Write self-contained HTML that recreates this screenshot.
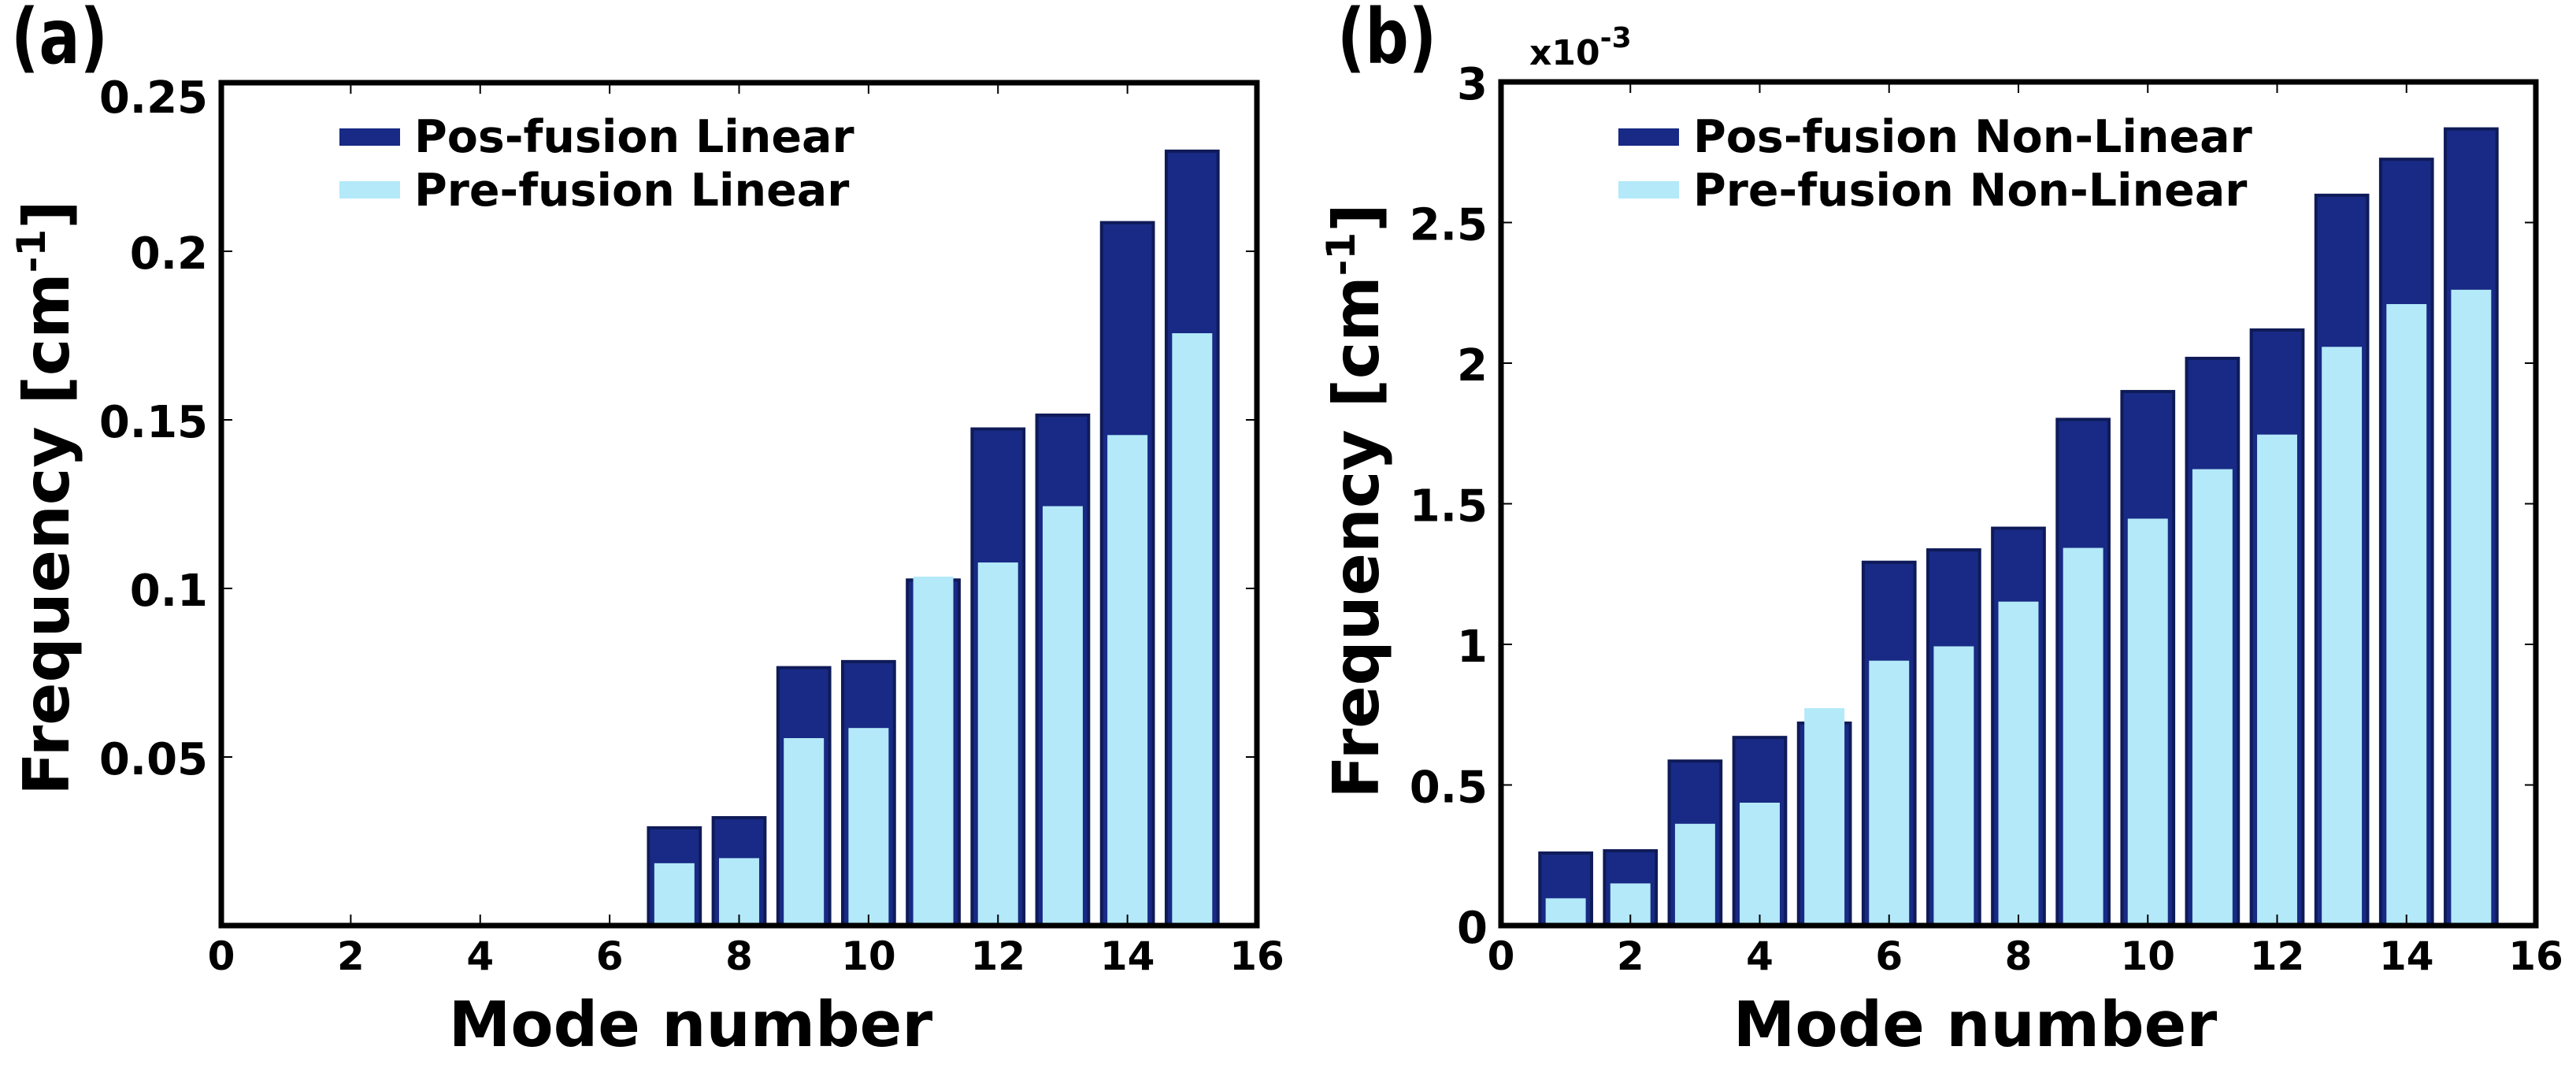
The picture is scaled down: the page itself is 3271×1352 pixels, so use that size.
<!DOCTYPE html>
<html><head><meta charset="utf-8"><style>
html,body{margin:0;padding:0;background:#fff;}
svg{display:block;}
text{font-family:"DejaVu Sans","Liberation Sans",sans-serif;font-weight:bold;fill:#000;}
</style></head><body>
<svg id="fig" width="3271" height="1352" viewBox="0 0 3271 1352" xmlns="http://www.w3.org/2000/svg">
<text transform="translate(14,80) scale(0.9,1.12)" font-size="86">(a)</text>
<text transform="translate(1698,80) scale(0.9,1.12)" font-size="86">(b)</text>
<text x="1942" y="82" font-size="44">x10<tspan dy="-22" font-size="36">-3</tspan></text>
</svg>
<script>
const modes = [1,2,3,4,5,6,7,8,9,10,11,12,13,14,15];
const aPost = [0,0,0,0,0,0,0.029,0.032,0.0765,0.0783,0.1025,0.1473,0.1514,0.2085,0.2297];
const aPre  = [0,0,0,0,0,0,0.0185,0.020,0.0556,0.0586,0.1035,0.1077,0.1244,0.1455,0.1757];
const bPost = [0.258,0.266,0.585,0.669,0.720,1.292,1.336,1.413,1.800,1.899,2.017,2.118,2.597,2.725,2.833];
const bPre  = [0.097,0.150,0.362,0.437,0.773,0.942,0.993,1.152,1.343,1.447,1.623,1.746,2.058,2.210,2.261];
const xTicks = [0,2,4,6,8,10,12,14,16];
const aYTicks = [0.05,0.1,0.15,0.2,0.25];
const aYLabels = ["0.05","0.1","0.15","0.2","0.25"];
const bYTicks = [0,0.5,1,1.5,2,2.5,3];
const bYLabels = ["0","0.5","1","1.5","2","2.5","3"];
const NS="http://www.w3.org/2000/svg";
const svg=document.getElementById('fig');
function mk(tag,attrs,parent){const e=document.createElementNS(NS,tag);for(const k in attrs)e.setAttribute(k,attrs[k]);(parent||svg).appendChild(e);return e;}
function panel(p){
  const g=mk('g',{});
  
  
  const xs=v=>p.L+(v-0)/(16-0)*(p.R-p.L);
  const ys=v=>p.B-(v/p.ymax)*(p.B-p.T);
  for(let i=0;i<modes.length;i++){
    const m=modes[i];
    if(p.post[i]>0){
      const w=0.8*(p.R-p.L)/16;
      const r=mk('rect',{x:xs(m)-w/2,y:ys(p.post[i]),width:w,height:p.B-ys(p.post[i]),fill:'#182a85',stroke:'#0f1b58','stroke-width':4},g);
      
      
    }
    if(p.pre[i]>0){
      const w=0.62*(p.R-p.L)/16;
      const r=mk('rect',{x:xs(m)-w/2,y:ys(p.pre[i]),width:w,height:p.B-ys(p.pre[i]),fill:'#b3e9f9'},g);
      
      
    }
  }
  const f=mk('rect',{x:p.L,y:p.T,width:p.R-p.L,height:p.B-p.T,fill:'none',stroke:'#000','stroke-width':7},g);
  
  
  xTicks.forEach(t=>{
    const x=xs(t);
    mk('line',{x1:x,x2:x,y1:p.B,y2:p.B-14,stroke:'#000','stroke-width':2},g);
    mk('line',{x1:x,x2:x,y1:p.T,y2:p.T+14,stroke:'#000','stroke-width':2},g);
    const tx=mk('text',{x:x,y:1231,'font-size':50,'text-anchor':'middle'},g);
    tx.textContent=t;
    
    
  });
  p.yt.forEach((t,i)=>{
    const y=ys(t);
    mk('line',{x1:p.L,x2:p.L+14,y1:y,y2:y,stroke:'#000','stroke-width':2},g);
    mk('line',{x1:p.R,x2:p.R-14,y1:y,y2:y,stroke:'#000','stroke-width':2},g);
    const off=(p.id==='a'&&i===p.yt.length-1)?38:22;
    const tx=mk('text',{x:p.L-17,y:y+off,'font-size':56,'text-anchor':'end'},g);
    tx.textContent=p.yl[i];
    
    
  });
  const xl=mk('text',{x:p.xlc,y:1328,'font-size':79,'text-anchor':'middle'},g);
  xl.textContent='Mode number';
  
  
  const yl=mk('text',{x:0,y:0,'font-size':80,'text-anchor':'middle',transform:'translate('+p.ylx+','+p.ylc+') rotate(-90)'},g);
  yl.innerHTML='Frequency [cm<tspan dy="-30" font-size="50">-1</tspan><tspan dy="30">]</tspan>';
  
  
  const s1=mk('rect',{x:p.lgx,y:163,width:77,height:22,fill:'#182a85'},g);
  
  
  const t1=mk('text',{x:p.lgx+95,y:193,'font-size':57},g);
  t1.textContent=p.l1;
  
  
  const s2=mk('rect',{x:p.lgx,y:230,width:77,height:22,fill:'#b3e9f9'},g);
  
  
  const t2=mk('text',{x:p.lgx+95,y:261,'font-size':57},g);
  t2.textContent=p.l2;
  
  
}
panel({id:'a',L:281,R:1596,T:105,B:1175,ymax:0.25,post:aPost,pre:aPre,yt:aYTicks,yl:aYLabels,xlc:877,ylx:87,ylc:632,lgx:431,l1:'Pos-fusion Linear',l2:'Pre-fusion Linear'});
panel({id:'b',L:1906,R:3220,T:104,B:1175,ymax:3,post:bPost,pre:bPre,yt:bYTicks,yl:bYLabels,xlc:2508,ylx:1750,ylc:636,lgx:2055,l1:'Pos-fusion Non-Linear',l2:'Pre-fusion Non-Linear'});
</script>
</body></html>
